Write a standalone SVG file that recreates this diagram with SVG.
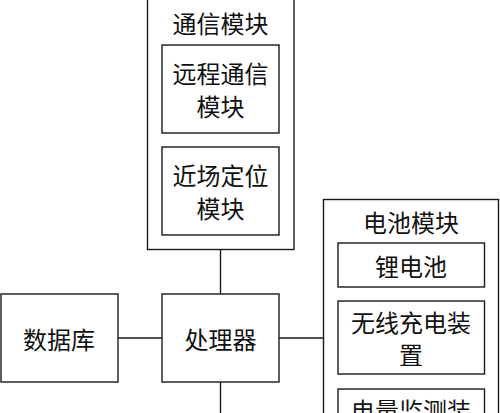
<svg xmlns="http://www.w3.org/2000/svg" width="500" height="413" viewBox="0 0 500 413">
<style>
rect{fill:#fff;stroke:#1a1a1a;stroke-width:1.4}
text{font-family:"Noto Sans CJK SC","Liberation Sans",sans-serif;font-size:24px;fill:#111;text-anchor:middle;dominant-baseline:central}
.c line{stroke:#1a1a1a;stroke-width:1.4}
</style>
<rect x="0" y="0" width="500" height="413" style="stroke:none"/>
<g class="c" id="connectors">
<line x1="220.5" y1="249.5" x2="220.5" y2="294"/>
<line x1="118" y1="338" x2="162" y2="338"/>
<line x1="279" y1="338" x2="323.5" y2="338"/>
<line x1="220.5" y1="382" x2="220.5" y2="413"/>
</g>
<g id="comm">
<rect x="147.5" y="-2" width="146.5" height="251.5"/>
<text x="220.5" y="22">通信模块</text>
</g>
<g id="remote">
<rect x="162" y="45" width="117" height="88"/>
<text x="220.5" y="72.5">远程通信</text>
<text x="220.5" y="105.5">模块</text>
</g>
<g id="near">
<rect x="162" y="147" width="117" height="88"/>
<text x="220.5" y="174.5">近场定位</text>
<text x="220.5" y="207.5">模块</text>
</g>
<g id="db">
<rect x="1" y="294" width="117" height="88"/>
<text x="59" y="338">数据库</text>
</g>
<g id="cpu">
<rect x="162" y="294" width="117" height="88"/>
<text x="220.5" y="338">处理器</text>
</g>
<g id="battery">
<rect x="323.5" y="199.5" width="175" height="220"/>
<text x="411" y="221">电池模块</text>
</g>
<g id="li">
<rect x="338" y="243" width="146.5" height="44"/>
<text x="411" y="265">锂电池</text>
</g>
<g id="wireless">
<rect x="338" y="301" width="146.5" height="73"/>
<text x="411" y="321.5">无线充电装</text>
<text x="411" y="353.5">置</text>
</g>
<g id="monitor">
<rect x="338" y="389" width="146.5" height="73"/>
<text x="411" y="409.5">电量监测装</text>
</g>
</svg>
